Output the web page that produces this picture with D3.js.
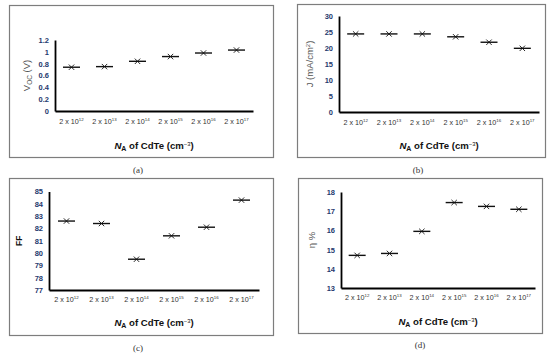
<!DOCTYPE html>
<html>
<head>
<meta charset="utf-8">
<script src="https://cdn.jsdelivr.net/npm/d3@7"></script>
<style>
  body { margin: 0; background: #fff; }
  svg { display: block; }
</style>
</head>
<body>
<svg id="chart" width="550" height="356"></svg>
<script>
// doping levels (exponent of 2 x 10^n)
var exponents = ["12", "13", "14", "15", "16", "17"];

// values
var vocValues = [0.74, 0.75, 0.84, 0.92, 0.98, 1.03];
var jValues = [24.4, 24.4, 24.4, 23.5, 21.8, 19.9];
var ffValues = [82.6, 82.4, 79.5, 81.4, 82.1, 84.3];
var etaValues = [14.7, 14.8, 15.95, 17.45, 17.25, 17.1];

var vocTicks = [0, 0.2, 0.4, 0.6, 0.8, 1, 1.2];
var jTicks = [0, 5, 10, 15, 20, 25, 30];
var ffTicks = [77, 78, 79, 80, 81, 82, 83, 84, 85];
var etaTicks = [13, 14, 15, 16, 17, 18];

var captions = ["(a)", "(b)", "(c)", "(d)"];

var svg = d3.select("#chart");

// layout of each panel (pixels on the 550x356 page)
var panels = [
  {values: vocValues, ticks: vocTicks, caption: captions[0], ylab: "voc",
   box: [9, 5, 264, 152], left: 55, right: 253, top: 40, bottom: 111,
   xlabY: 124, titleY: 149, ylabX: 27, capX: 138, capY: 173},
  {values: jValues, ticks: jTicks, caption: captions[1], ylab: "j",
   box: [297, 4, 248, 153], left: 339, right: 539, top: 16, bottom: 112,
   xlabY: 125, titleY: 149, ylabX: 310, capX: 418, capY: 173},
  {values: ffValues, ticks: ffTicks, caption: captions[2], ylab: "ff",
   box: [9, 178, 264, 157], left: 49, right: 259, top: 191.5, bottom: 290,
   xlabY: 302, titleY: 326, ylabX: 19, capX: 138, capY: 351},
  {values: etaValues, ticks: etaTicks, caption: captions[3], ylab: "eta",
   box: [298, 178, 244, 155], left: 341, right: 535, top: 192, bottom: 288,
   xlabY: 300, titleY: 325, ylabX: 312, capX: 420, capY: 348}
];

var tickColor = "#1f3a6e";
var sans = "'Liberation Sans', Arial, sans-serif";

panels.forEach(function(p) {
  var g = svg.append("g");

  // outer frame
  g.append("rect")
    .attr("x", p.box[0] + 0.5).attr("y", p.box[1] + 0.5)
    .attr("width", p.box[2]).attr("height", p.box[3])
    .attr("fill", "none").attr("stroke", "#7d7d7d").attr("stroke-width", 1.2);

  var xScale = d3.scaleBand()
    .domain(exponents)
    .range([p.left, p.right]);

  var yScale = d3.scaleLinear()
    .domain([p.ticks[0], p.ticks[p.ticks.length - 1]])
    .range([p.bottom, p.top]);

  // y axis
  var yAxis = g.append("g")
    .attr("transform", `translate(${p.left},0)`)
    .call(d3.axisLeft(yScale).tickValues(p.ticks).tickSize(0).tickPadding(6).tickFormat(d3.format("")));
  yAxis.select(".domain").attr("stroke", "#000").attr("stroke-width", 1.8);
  yAxis.selectAll("text")
    .attr("fill", tickColor)
    .style("font-family", sans)
    .style("font-size", "7.5px")
    .style("font-weight", "bold");

  // x axis
  var xAxis = g.append("g")
    .attr("transform", `translate(0,${p.bottom})`)
    .call(d3.axisBottom(xScale).tickSize(0).tickFormat(""));
  xAxis.select(".domain").attr("stroke", "#000").attr("stroke-width", 1.8);

  // x tick labels "2 x 10^n"
  var xl = g.selectAll(".xlab")
    .data(exponents)
    .enter()
    .append("text")
    .attr("class", "xlab")
    .attr("x", d => xScale(d) + xScale.bandwidth() / 2)
    .attr("y", p.xlabY)
    .attr("text-anchor", "middle")
    .attr("fill", "#333")
    .style("font-family", sans)
    .style("font-size", "7.2px");
  xl.append("tspan").text("2 x 10");
  xl.append("tspan").attr("dy", -3.2).style("font-size", "4.4px").text(d => d);

  // x title
  var xt = g.append("text")
    .attr("x", p.left + (p.right - p.left) / 2)
    .attr("y", p.titleY)
    .attr("text-anchor", "middle")
    .attr("fill", "#111")
    .style("font-family", sans)
    .style("font-size", "9.6px")
    .style("font-weight", "bold");
  xt.append("tspan").style("font-style", "italic").text("N");
  xt.append("tspan").attr("dy", 2).style("font-size", "7px").text("A");
  xt.append("tspan").attr("dy", -2).text(" of CdTe (cm");
  xt.append("tspan").attr("dy", -3.2).style("font-size", "5.8px").style("font-weight", "normal").text("−3");
  xt.append("tspan").attr("dy", 3.2).text(")");

  // y title
  var cy = p.top + (p.bottom - p.top) / 2;
  var yt = g.append("text")
    .attr("transform", `translate(${p.ylabX},${cy}) rotate(-90)`)
    .attr("text-anchor", "middle")
    .attr("dy", "0.35em")
    .attr("fill", "#555")
    .style("font-family", sans)
    .style("font-size", "9.5px");
  if (p.ylab == "voc") {
    yt.append("tspan").text("V");
    yt.append("tspan").attr("dy", 2).style("font-size", "6.5px").text("OC");
    yt.append("tspan").attr("dy", -2).text(" (V)");
  } else if (p.ylab == "j") {
    yt.append("tspan").text("J (mA/cm");
    yt.append("tspan").attr("dy", -3.2).style("font-size", "6px").text("2");
    yt.append("tspan").attr("dy", 3.2).text(")");
  } else if (p.ylab == "ff") {
    yt.attr("fill", "#111").style("font-weight", "bold").style("font-size", "8.5px").text("FF");
  } else {
    yt.text("η %");
  }

  // markers: horizontal dash plus a small cross
  var pts = g.selectAll(".pt")
    .data(p.values)
    .enter()
    .append("g")
    .attr("class", "pt")
    .attr("transform", (d, i) => `translate(${xScale(exponents[i]) + xScale.bandwidth() / 2},${yScale(d)})`);
  pts.append("line")
    .attr("x1", -8.5).attr("x2", 8.5)
    .attr("stroke", "#111").attr("stroke-width", 1.4);
  pts.append("path")
    .attr("d", "M-2.7,-2.7L2.7,2.7M-2.7,2.7L2.7,-2.7")
    .attr("stroke", "#111").attr("stroke-width", 0.9);

  // caption
  g.append("text")
    .attr("x", p.capX).attr("y", p.capY)
    .attr("text-anchor", "middle")
    .attr("fill", "#333")
    .style("font-family", "'Liberation Serif', 'DejaVu Serif', serif")
    .style("font-size", "9px")
    .text(p.caption);
});
</script>
</body>
</html>
